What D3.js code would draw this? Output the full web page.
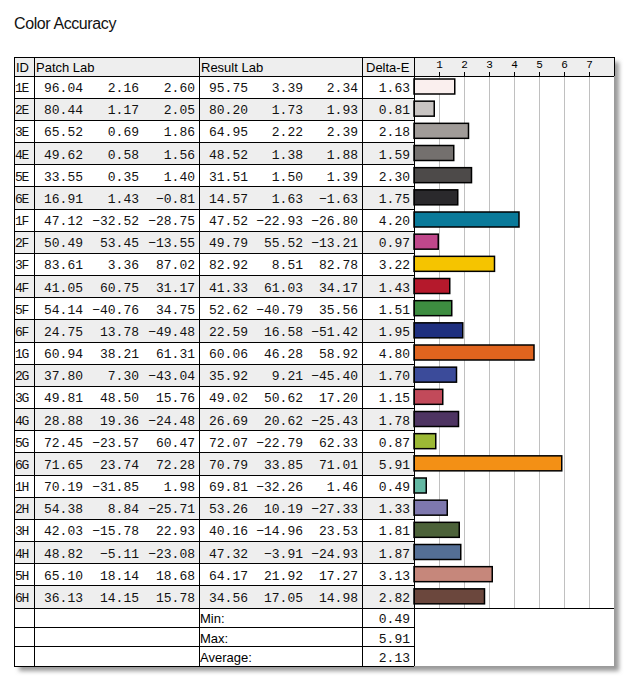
<!DOCTYPE html>
<html><head><meta charset="utf-8">
<script src="https://cdn.jsdelivr.net/npm/d3@7/dist/d3.min.js"></script>
<style>
html,body{margin:0;padding:0;background:#fff;}
svg{display:block;}
</style></head>
<body>
<svg id="chart" width="628" height="681"></svg>
<script>
const title = "Color Accuracy";
const ids = ["1E","2E","3E","4E","5E","6E","1F","2F","3F","4F","5F","6F","1G","2G","3G","4G","5G","6G","1H","2H","3H","4H","5H","6H"];
const patchL = [96.04,80.44,65.52,49.62,33.55,16.91,47.12,50.49,83.61,41.05,54.14,24.75,60.94,37.80,49.81,28.88,72.45,71.65,70.19,54.38,42.03,48.82,65.10,36.13];
const patchA = [2.16,1.17,0.69,0.58,0.35,1.43,-32.52,53.45,3.36,60.75,-40.76,13.78,38.21,7.30,48.50,19.36,-23.57,23.74,-31.85,8.84,-15.78,-5.11,18.14,14.15];
const patchB = [2.60,2.05,1.86,1.56,1.40,-0.81,-28.75,-13.55,87.02,31.17,34.75,-49.48,61.31,-43.04,15.76,-24.48,60.47,72.28,1.98,-25.71,22.93,-23.08,18.68,15.78];
const resultL = [95.75,80.20,64.95,48.52,31.51,14.57,47.52,49.79,82.92,41.33,52.62,22.59,60.06,35.92,49.02,26.69,72.07,70.79,69.81,53.26,40.16,47.32,64.17,34.56];
const resultA = [3.39,1.73,2.22,1.38,1.50,1.63,-22.93,55.52,8.51,61.03,-40.79,16.58,46.28,9.21,50.62,20.62,-22.79,33.85,-32.26,10.19,-14.96,-3.91,21.92,17.05];
const resultB = [2.34,1.93,2.39,1.88,1.39,-1.63,-26.80,-13.21,82.78,34.17,35.56,-51.42,58.92,-45.40,17.20,-25.43,62.33,71.01,1.46,-27.33,23.53,-24.93,17.27,14.98];
const deltaE = [1.63,0.81,2.18,1.59,2.30,1.75,4.20,0.97,3.22,1.43,1.51,1.95,4.80,1.70,1.15,1.78,0.87,5.91,0.49,1.33,1.81,1.87,3.13,2.82];
const barColors = ["#faefee","#c8c4c2","#a09b98","#74706e","#4d4a49","#2a292c","#0a7a9a","#c0478b","#f5c400","#b5192c","#3d8c40","#1e2f7f","#e0641e","#3b4b9a","#c24a5a","#4e3462","#9cb935","#f39015","#63b8a3","#7e78ae","#4c6239","#546f96","#c6877b","#6b473d"];
const summaryLabels = ["Min:","Max:","Average:"];
const summaryValues = [0.49,5.91,2.13];
const headers = ["ID","Patch Lab","Result Lab","Delta-E"];
const ticks = [1,2,3,4,5,6,7];

const svg = d3.select("#chart");
const SANS = "'Liberation Sans', Arial, sans-serif";
const MONO = "'Liberation Mono', 'Courier New', monospace";

const L = 14, R = 614, T = 57, HB = 76, BB = 608;
const colX = [14, 34, 199, 362, 414];
const sumRows = [608, 627.5, 646.5, 666];

// shadow
const defs = svg.append("defs");
const f = defs.append("filter").attr("id","sh").attr("x","-10%").attr("y","-10%").attr("width","120%").attr("height","120%");
f.append("feGaussianBlur").attr("stdDeviation", 2.2);
svg.append("rect").attr("x", L+5).attr("y", T+5).attr("width", R-L).attr("height", 666-T)
  .attr("fill", "#9a9a9a").attr("filter","url(#sh)");
svg.append("rect").attr("x", L).attr("y", T).attr("width", R-L).attr("height", 666-T).attr("fill", "#fff");

// title
svg.append("text").attr("x", 14).attr("y", 29).text(title)
  .attr("font-family", SANS).attr("font-size", 16).attr("letter-spacing", -0.4).attr("fill", "#111");

const x = d3.scaleLinear().domain([0, 8]).range([414, 614]);
const y = d3.scaleBand().domain(ids).range([HB, BB]).padding(0);
const rh = y.bandwidth();

// header bg
svg.append("rect").attr("x", L).attr("y", T).attr("width", R-L).attr("height", HB-T).attr("fill", "#eeeeee");

// row backgrounds
svg.selectAll("rect.rowbg").data(ids).enter().append("rect")
  .attr("class","rowbg")
  .attr("x", L).attr("y", d => y(d)).attr("width", 414-L).attr("height", rh)
  .attr("fill", (d,i) => i % 2 === 1 ? "#eeeeee" : "#ffffff");

// gridlines
svg.selectAll("line.grid").data(ticks).enter().append("line")
  .attr("x1", d => Math.round(x(d))+0.5).attr("x2", d => Math.round(x(d))+0.5)
  .attr("y1", HB).attr("y2", BB).attr("stroke", "#c0c0c0").attr("stroke-width", 1);

// axis header ticks
const ax = svg.append("g").attr("transform", `translate(0,${HB})`)
  .call(d3.axisTop(x).tickValues(ticks).tickSize(4).tickPadding(4).tickFormat(d3.format("d")));
ax.select(".domain").remove();
ax.selectAll(".tick line").attr("stroke", "#000");
ax.selectAll(".tick text").attr("font-family", MONO).attr("font-size", 11).attr("fill", "#000");

// bars
svg.selectAll("rect.bar").data(ids).enter().append("rect")
  .attr("x", x(0)).attr("y", d => y(d) + 3)
  .attr("width", (d,i) => x(deltaE[i]) - x(0)).attr("height", 15)
  .attr("fill", (d,i) => barColors[i]).attr("stroke", "#000").attr("stroke-width", 1.5);

// header texts
const hx = [16, 36, 201, 366];
headers.forEach((h,i) => {
  svg.append("text").attr("x", hx[i]).attr("y", T+15).text(h)
    .attr("font-family", SANS).attr("font-size", 13).attr("fill", "#000");
});

// numbers
const fmt = d3.format(".2f");
const numCols = [
  {vals: patchL, x: 83}, {vals: patchA, x: 139}, {vals: patchB, x: 195},
  {vals: resultL, x: 248}, {vals: resultA, x: 303}, {vals: resultB, x: 358},
  {vals: deltaE, x: 410}
];
const g = svg.append("g").attr("font-family", MONO).attr("font-size", 13).attr("fill", "#111");
ids.forEach((id, i) => {
  g.append("text").attr("x", 15).attr("y", y(id) + 16).text(id).attr("letter-spacing", -1.2);
  numCols.forEach(c => {
    g.append("text").attr("x", c.x).attr("y", y(id) + 16).attr("text-anchor", "end").text(fmt(c.vals[i]));
  });
});

// summary
summaryLabels.forEach((s, i) => {
  svg.append("text").attr("x", 200).attr("y", sumRows[i] + 15).text(s)
    .attr("font-family", SANS).attr("font-size", 13).attr("fill", "#000");
  g.append("text").attr("x", 410).attr("y", sumRows[i] + 15).attr("text-anchor", "end").text(fmt(summaryValues[i]));
});

// table lines
const lines = svg.append("g").attr("stroke", "#000").attr("stroke-width", 1).attr("shape-rendering", "crispEdges");
// horizontal
const hY = [T, HB].concat(ids.map(d => y(d) + rh)).concat(sumRows.slice(1));
hY.forEach((yy) => {
  const x2 = (yy === T || yy === HB || Math.abs(yy-BB) < 0.5) ? R : 414;
  lines.append("line").attr("x1", L).attr("x2", x2).attr("y1", yy).attr("y2", yy);
});
// vertical
colX.forEach(xx => lines.append("line").attr("x1", xx).attr("x2", xx).attr("y1", T).attr("y2", 666));
lines.append("line").attr("x1", R).attr("x2", R).attr("y1", T).attr("y2", HB);
</script>
</body></html>
